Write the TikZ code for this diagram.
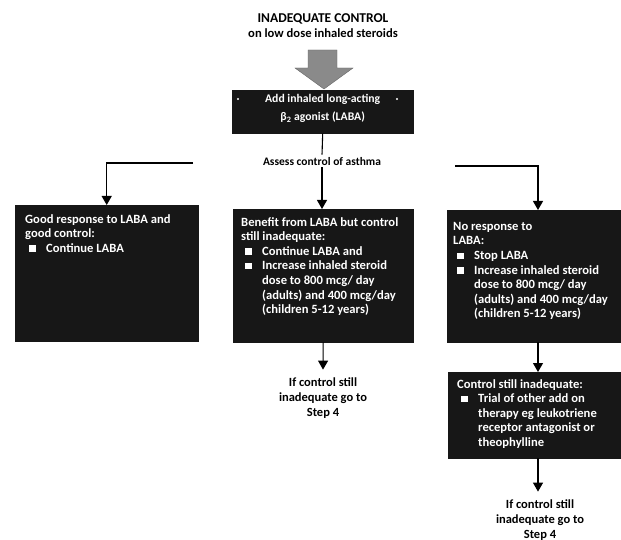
\documentclass[tikz,border=0pt]{standalone}
\usepackage{fontspec}
\setmainfont{Carlito}
\usetikzlibrary{arrows.meta}
\definecolor{boxc}{HTML}{171717}
\definecolor{arrowgray}{HTML}{8A8A8A}
\newcommand{\sqb}{\rule{6.5pt}{6.5pt}}
\newcommand{\itm}{\par\noindent\hangindent=21pt\hangafter=1\makebox[21pt][l]{\hspace{4pt}\raisebox{0.5pt}{\sqb}}}
\newcommand{\boxfill}[5]{\parbox[c][#2][t]{#1}{\fontsize{12.6}{14.6}\selectfont\bfseries\leftskip=#3\rightskip=0pt plus 1fil\parindent=0pt\vspace*{#4}#5}}
\newcommand{\topfill}[3]{\parbox[c][#2][t]{#1}{\fontsize{11.7}{18}\selectfont\bfseries\centering\vspace*{4pt}#3\par}}
\begin{document}
\begin{tikzpicture}[x=1pt,y=-1pt,
  box/.style={fill=boxc, draw=boxc, inner sep=0pt, text=white, anchor=north west},
  arr/.style={draw, line width=1.1pt, -{Triangle[width=10pt,length=9pt]}},
  ln/.style={draw, line width=1.1pt},
  lbl/.style={font=\fontsize{12.5}{14.8}\selectfont\bfseries, align=center, inner sep=1pt}]
\fill[white] (0,0) rectangle (621,540);
\useasboundingbox (0,0) rectangle (621,540);
% title
\node[font=\fontsize{13.5}{15}\selectfont\bfseries, align=center, inner sep=0pt] (title) at (323,26) {INADEQUATE CONTROL\\{\fontsize{12.6}{15}\selectfont on low dose inhaled steroids}};
% grey block arrow
\fill[arrowgray, draw=gray!80!black] (308,50) -- (337,50) -- (337,68) -- (353,68) -- (324,89) -- (295,68) -- (308,68) -- cycle;
% top box
\node[box] (top) at (232,90) {\topfill{181pt}{43pt}{Add inhaled long-acting\\β\textsubscript{2} agonist (LABA)}};
\fill[white] (238,99) circle (1.2);
\fill[white] (397,99) circle (1.2);
% assess
\node[lbl, font=\fontsize{11.5}{14}\selectfont\bfseries] (assess) at (322,162) {Assess control of asthma};
% boxes
\node[box] (left) at (15,205) {\boxfill{183pt}{136pt}{10pt}{9pt}{Good response to LABA and\\ good control:\itm Continue LABA}};
\node[box] (mid) at (233,209) {\boxfill{180pt}{133pt}{8pt}{8pt}{Benefit from LABA but control\\ still inadequate:\itm Continue LABA and\itm Increase inhaled steroid\\ dose to 800 mcg/ day\\ (adults) and 400 mcg/day\\ (children 5-12 years)}};
\node[box] (right) at (447,210) {\boxfill{174pt}{132pt}{6pt}{12pt}{No response to\\ LABA:\itm Stop LABA\itm Increase inhaled steroid\\ dose to 800 mcg/ day\\ (adults) and 400 mcg/day\\ (children 5-12 years)}};
\node[box] (low) at (448,372) {\boxfill{173pt}{86pt}{9pt}{7pt}{Control still inadequate:\itm Trial of other add on\\ therapy eg leukotriene\\ receptor antagonist or\\ theophylline}};
% step texts
\node[lbl] (step1) at (323,398) {If control still\\inadequate go to\\Step 4};
\node[lbl] (step2) at (540,520) {If control still\\inadequate go to\\Step 4};
% connectors
\draw[ln] (top.south) -- ([yshift=2pt]assess.north);
\draw[arr] (assess.south) -- (assess.south |- mid.north);
\coordinate (lst) at (193,163);
\draw[arr] (lst) -| (left.north);
\coordinate (rst) at (455,166);
\coordinate (rin) at (538,210);
\draw[arr] (rst) -| (rin);
\draw[arr] (mid.south) -- ([yshift=7pt]step1.north);
\coordinate (rout) at (538,342);
\draw[arr] (rout) -- (rout |- low.north);
\coordinate (lout) at (538,458);
\draw[arr] (lout) -- ([yshift=7pt]step2.north -| lout);
\end{tikzpicture}
\end{document}
